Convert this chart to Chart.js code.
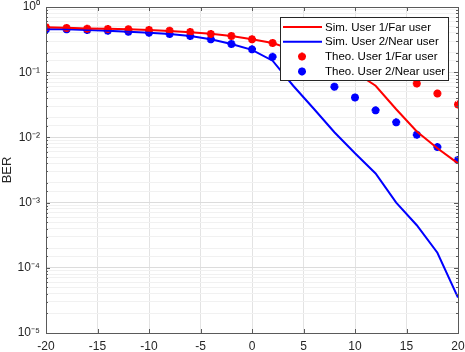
<!DOCTYPE html>
<html>
<head>
<meta charset="utf-8">
<script src="https://cdn.jsdelivr.net/npm/chart.js@4.4.0/dist/chart.umd.min.js"></script>
<style>
  html, body { margin: 0; padding: 0; background: #fff; }
</style>
</head>
<body>
<canvas id="chart" width="465" height="352"></canvas>
<script>
// SNR (dB) on the x axis
const snr = [-20, -18, -16, -14, -12, -10, -8, -6, -4, -2, 0, 2, 4, 6, 8, 10, 12, 14, 16, 18, 20];
// simulated BER
const simFar  = [0.49, 0.48, 0.47, 0.465, 0.455, 0.445, 0.43, 0.41, 0.39, 0.36, 0.32, 0.28, 0.22, 0.174, 0.135, 0.10, 0.062, 0.027, 0.0123, 0.0068, 0.004];
const simNear = [0.455, 0.455, 0.444, 0.433, 0.418, 0.404, 0.385, 0.359, 0.319, 0.271, 0.22, 0.15, 0.062, 0.0275, 0.012, 0.0057, 0.0028, 0.001, 0.00045, 0.00017, 0.000035];
// theoretical BER
const theoFar  = [0.489, 0.476, 0.465, 0.46, 0.455, 0.444, 0.433, 0.414, 0.385, 0.359, 0.32, 0.28, 0.25, 0.22, 0.18, 0.148, 0.117, 0.091, 0.067, 0.047, 0.032];
const theoNear = [0.455, 0.455, 0.444, 0.433, 0.418, 0.404, 0.385, 0.359, 0.319, 0.271, 0.224, 0.172, 0.12, 0.088, 0.06, 0.041, 0.026, 0.017, 0.011, 0.0071, 0.0045];

const xTicks = [-20, -15, -10, -5, 0, 5, 10, 15, 20];
const legendLabels = ['Sim. User 1/Far user', 'Sim. User 2/Near user', 'Theo. User 1/Far user', 'Theo. User 2/Near user'];

const RED = '#ff0000';
const BLUE = '#0000ff';
const AXIS = '#262626';
const FONT = '"Liberation Sans", Arial, sans-serif';

const pts = (ys) => snr.map((x, i) => ({ x: x, y: ys[i] }));

const sup = { '0': '\u2070', '1': '\u00b9', '2': '\u00b2', '3': '\u00b3', '4': '\u2074', '5': '\u2075', '-': '\u207b' };
function isPow(v) {
    const e = Math.log10(v);
    return Math.abs(e - Math.round(e)) < 1e-6;
}
function powLabel(v) {
    if (!isPow(v)) return '';
    const e = Math.round(Math.log10(v));
    return '10' + String(e).split('').map(c => sup[c]).join('');
}

// matlab style asterisk
function asterisk(ctx, cx, cy, r) {
    ctx.beginPath();
    for (let k = 0; k < 4; k++) {
        const a = k * Math.PI / 4;
        ctx.moveTo(cx - r * Math.cos(a), cy - r * Math.sin(a));
        ctx.lineTo(cx + r * Math.cos(a), cy + r * Math.sin(a));
    }
    ctx.stroke();
}

// box round the axes + inward ticks
const boxTicks = {
    id: 'boxTicks',
    afterDatasetsDraw(chart) {
        const { ctx, chartArea: { left, right, top, bottom }, scales: { x, y } } = chart;
        ctx.save();
        ctx.strokeStyle = '#5a5a5a';
        ctx.lineWidth = 1;
        ctx.beginPath();
        y.ticks.forEach(t => {
            const py = Math.round(y.getPixelForValue(t.value)) + 0.5;
            const len = isPow(t.value) ? 4 : 2;
            ctx.moveTo(left, py); ctx.lineTo(left + len, py);
            ctx.moveTo(right, py); ctx.lineTo(right - len, py);
        });
        x.ticks.forEach(t => {
            const px = Math.round(x.getPixelForValue(t.value)) + 0.5;
            ctx.moveTo(px, bottom); ctx.lineTo(px, bottom - 4);
            ctx.moveTo(px, top); ctx.lineTo(px, top + 4);
        });
        ctx.stroke();
        ctx.strokeRect(Math.round(left) + 0.5, Math.round(top) + 0.5, Math.round(right - left), Math.round(bottom - top));
        ctx.restore();
    }
};

// legend box inside the plot, top right
const boxLegend = {
    id: 'boxLegend',
    afterDraw(chart) {
        const { ctx, chartArea: { right, top } } = chart;
        const w = 168, h = 63;
        const bx = Math.round(right - 10 - w), by = Math.round(top + 10);
        ctx.save();
        ctx.fillStyle = '#fff';
        ctx.fillRect(bx, by, w, h);
        ctx.strokeStyle = '#262626';
        ctx.lineWidth = 1;
        ctx.strokeRect(bx + 0.5, by + 0.5, w, h);
        ctx.font = '11.5px ' + FONT;
        ctx.textBaseline = 'middle';
        ctx.textAlign = 'left';
        const cols = [RED, BLUE, RED, BLUE];
        legendLabels.forEach((lab, i) => {
            const ly = by + 10 + i * 14.8;
            ctx.strokeStyle = cols[i];
            if (i < 2) {
                ctx.lineWidth = 2;
                ctx.beginPath();
                ctx.moveTo(bx + 3, ly); ctx.lineTo(bx + 42, ly);
                ctx.stroke();
            } else {
                ctx.lineWidth = 2.5;
                asterisk(ctx, bx + 22, ly, 4);
            }
            ctx.fillStyle = '#000';
            ctx.fillText(lab, bx + 45, ly + 0.5);
        });
        ctx.restore();
    }
};

const lineSet = (label, ys, color) => ({
    label: label, data: pts(ys), borderColor: color, backgroundColor: color,
    borderWidth: 2, pointRadius: 0, showLine: true, tension: 0
});
const markSet = (label, ys, color) => ({
    label: label, data: pts(ys), borderColor: color, backgroundColor: color,
    showLine: false, pointStyle: 'star', pointRadius: 4, pointBorderWidth: 2.5
});

const config = {
    type: 'scatter',
    data: {
        datasets: [
            lineSet(legendLabels[0], simFar, RED),
            lineSet(legendLabels[1], simNear, BLUE),
            markSet(legendLabels[2], theoFar, RED),
            markSet(legendLabels[3], theoNear, BLUE)
        ]
    },
    options: {
        responsive: false,
        animation: false,
        layout: { padding: { left: 0, right: 7, top: 7, bottom: 0 } },
        plugins: { legend: { display: false }, tooltip: { enabled: false } },
        scales: {
            x: {
                type: 'linear', min: -20, max: 20,
                afterBuildTicks: (s) => { s.ticks = xTicks.map(v => ({ value: v })); },
                afterFit: (s) => { s.height = 19; s.paddingLeft = 0; s.paddingRight = 0; },
                grid: { color: '#e3e3e3', drawTicks: false },
                border: { display: false },
                ticks: { padding: 6, color: AXIS, font: { family: FONT, size: 12 }, maxRotation: 0, autoSkip: false }
            },
            y: {
                type: 'logarithmic', min: 1e-5, max: 1,
                afterFit: (s) => { s.width = 46; s.paddingTop = 0; s.paddingBottom = 0; },
                grid: {
                    drawTicks: false,
                    color: (c) => (c.tick && isPow(c.tick.value)) ? '#dcdcdc' : '#f1f1f1'
                },
                border: { display: false },
                title: { display: true, text: 'BER', color: AXIS, font: { family: FONT, size: 13 }, padding: 0 },
                ticks: {
                    padding: 6, color: AXIS, font: { family: FONT, size: 12 }, autoSkip: false,
                    callback: (v) => powLabel(v)
                }
            }
        }
    },
    plugins: [boxTicks, boxLegend]
};

new Chart(document.getElementById('chart'), config);
</script>
</body>
</html>
